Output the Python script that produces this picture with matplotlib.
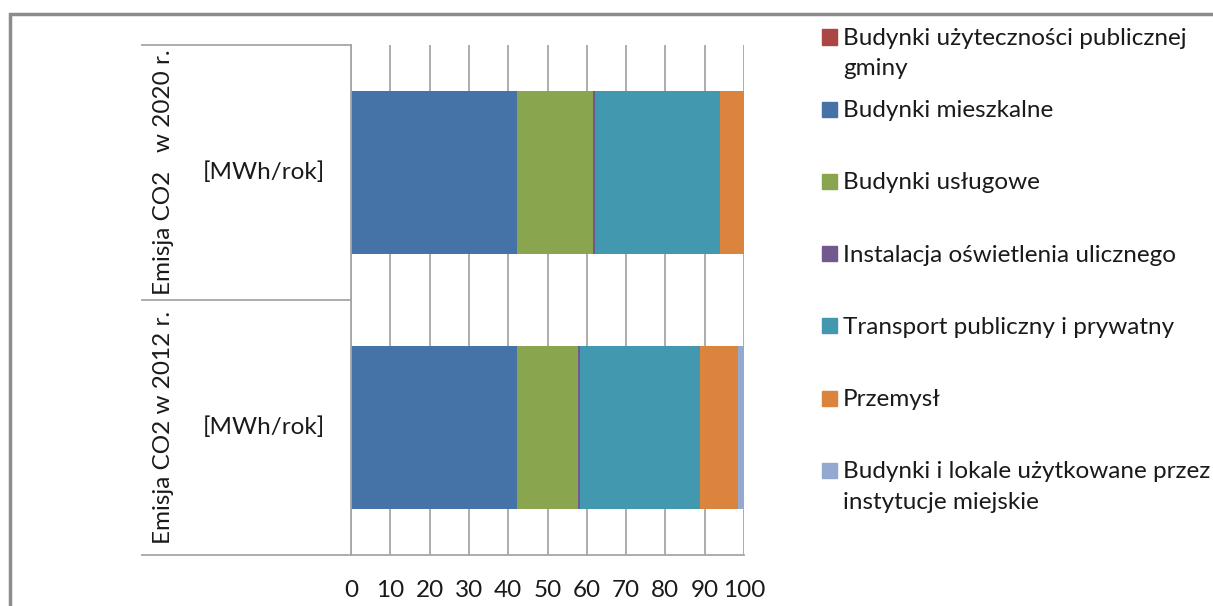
import matplotlib.pyplot as plt
from matplotlib.patches import Rectangle
from matplotlib.lines import Line2D
from matplotlib import transforms

plt.rcParams['font.family'] = ['Lato', 'DejaVu Sans']

# categories, bottom to top
years = ['2012', '2020']
row_labels = ['Emisja CO2 w 2012 r.', 'Emisja CO2   w 2020 r.']
unit_label = '[MWh/rok]'

series = [
    'Budynki użyteczności publicznej\ngminy',
    'Budynki mieszkalne',
    'Budynki usługowe',
    'Instalacja oświetlenia ulicznego',
    'Transport publiczny i prywatny',
    'Przemysł',
    'Budynki i lokale użytkowane przez\ninstytucje miejskie',
]
# shares in % for [2012, 2020]
pub_gminy = [0.1, 0.1]
mieszkalne = [42.1, 42.1]
uslugowe = [15.6, 19.5]
oswietlenie = [0.4, 0.3]
transport = [30.7, 32.0]
przemysl = [9.5, 6.0]
instytucje = [1.6, 0.0]
values = [pub_gminy, mieszkalne, uslugowe, oswietlenie, transport, przemysl, instytucje]
colors = ['#AA4643', '#4572A7', '#89A54E', '#71588F', '#4198AF', '#DB843D', '#93A9CF']

W, H = 1213, 606
FS = 17.5
TXT = '#1a1a1a'
fig = plt.figure(figsize=(W / 100, H / 100), dpi=100)

def fx(px):
    return px / W

def fy(py):
    return 1 - py / H

ax = fig.add_axes([fx(351), fy(555), fx(744) - fx(351), fy(45) - fy(555)])

grid_col = '#A6A6A6'
ypos = list(range(len(years)))
left = [0.0] * len(years)
for vals, col, name in zip(values, colors, series):
    ax.barh(ypos, vals, left=left, height=0.64, color=col, label=name, zorder=2)
    left = [l + v for l, v in zip(left, vals)]

ax.set_xlim(0, 100)
ax.set_ylim(-0.5, 1.5)
ax.set_xticks(range(0, 101, 10))
ax.set_yticks([])
ax.tick_params(axis='x', length=0, pad=18, labelsize=FS, colors=TXT)
ax.xaxis.grid(True, color=grid_col, lw=1.3, zorder=0)
ax.set_axisbelow(True)
for s in ['top', 'right']:
    ax.spines[s].set_visible(False)
for s in ['left', 'bottom']:
    ax.spines[s].set_color(grid_col)
    ax.spines[s].set_linewidth(1.3)

# category table on the left
blend = transforms.blended_transform_factory(fig.transFigure, ax.transData)
for yb in [-0.5, 0.5, 1.5]:
    fig.add_artist(Line2D([fx(142), fx(351)], [yb, yb], transform=blend,
                          color=grid_col, lw=1.3))
for y, lab in zip(ypos, row_labels):
    fig.text(fx(164), y, lab, transform=blend, rotation=90, ha='center', va='center',
             fontsize=FS, color=TXT)
    fig.text(fx(264), y, unit_label, transform=blend, ha='center', va='center',
             fontsize=FS, color=TXT)

# legend
for i, (name, col) in enumerate(zip(series, colors)):
    yc = 37 + i * 72.2
    fig.add_artist(Rectangle((fx(822), fy(yc + 7.5)), fx(15), fy(yc - 7.5) - fy(yc + 7.5),
                             transform=fig.transFigure, color=col))
    fig.text(fx(843), fy(yc - 9), name, ha='left', va='top', fontsize=FS,
             color=TXT, linespacing=1.55)

# outer frame
fig.add_artist(Rectangle((fx(10), -0.05), 1.1, fy(14) + 0.05, transform=fig.transFigure,
                         fill=False, edgecolor='#8C8C8C', lw=2.5, clip_on=False))

fig.savefig('out.png', dpi=100)
